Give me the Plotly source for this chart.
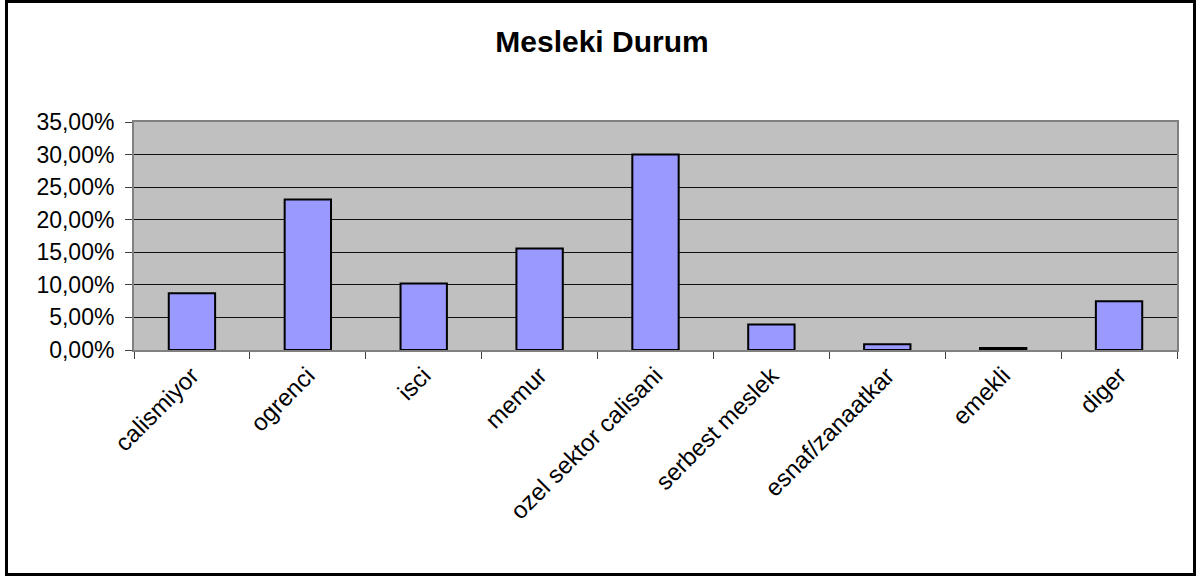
import plotly.graph_objects as go

categories = ["calismiyor", "ogrenci", "isci", "memur", "ozel sektor calisani",
              "serbest meslek", "esnaf/zanaatkar", "emekli", "diger"]
values = [0.087, 0.231, 0.102, 0.156, 0.300, 0.039, 0.009, 0.003, 0.075]
y_ticks = [0, 0.05, 0.10, 0.15, 0.20, 0.25, 0.30, 0.35]
title_text = "Mesleki Durum"

W, H = 1204, 579
L, R, T, B = 134, 27, 122, 229
pw, ph = W - L - R, H - T - B

font = "Liberation Sans, Arial, sans-serif"

fig = go.Figure(go.Bar(
    x=categories, y=values,
    marker=dict(color="#9999FF", line=dict(color="black", width=2)),
))

# outer chart border (pixel -> paper conversion)
bx0, by0, bx1, by1 = 6.5, 1.5, 1194.5, 574.5
fig.add_shape(type="rect", xref="paper", yref="paper",
              x0=(bx0 - L) / pw, x1=(bx1 - L) / pw,
              y0=(H - B - by1) / ph, y1=(H - B - by0) / ph,
              line=dict(color="black", width=3), layer="below")

fig.update_layout(
    width=W, height=H,
    margin=dict(l=L, r=R, t=T, b=B),
    paper_bgcolor="white",
    plot_bgcolor="#C0C0C0",
    separators=",.",
    bargap=0.6,
    showlegend=False,
    title=dict(text="<b>" + title_text + "</b>", x=0.5, xref="container",
               y=1 - 41 / H, yref="container", yanchor="middle", xanchor="center",
               font=dict(family=font, size=30, color="black")),
    font=dict(family=font, color="black"),
)
fig.update_yaxes(range=[0, 0.35], tickvals=y_ticks, tickformat=".2%",
                 showgrid=True, gridcolor="#101010", gridwidth=1,
                 ticks="outside", ticklen=7, tickcolor="#404040",
                 ticklabelstandoff=6,
                 showline=True, linecolor="#808080", linewidth=2, mirror=True,
                 zeroline=False, tickfont=dict(family=font, size=23, color="black"))
fig.update_xaxes(tickangle=-45, tickson="boundaries", ticks="outside", ticklen=7,
                 tickcolor="#404040",
                 showline=True, linecolor="#808080", linewidth=2, mirror=True,
                 tickfont=dict(family=font, size=24, color="black"))

fig.write_html("out.html")
